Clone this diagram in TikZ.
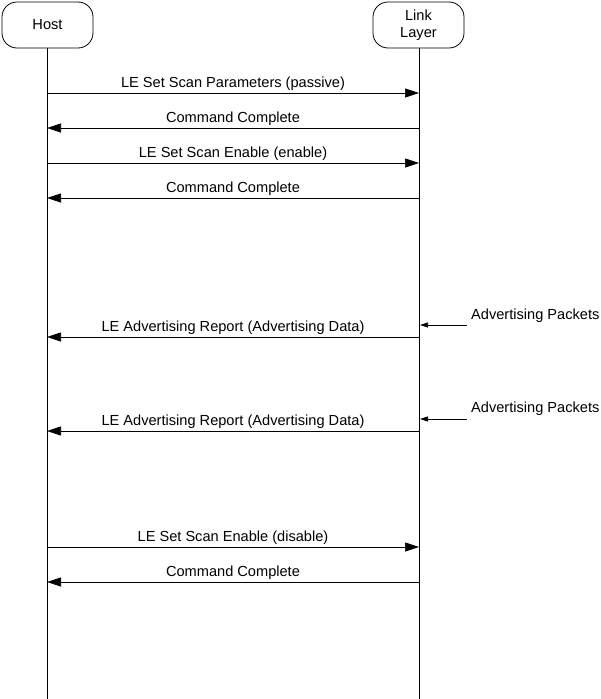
\documentclass[tikz,border=0pt]{standalone}
\usepackage{fontspec}
\setmainfont{Liberation Sans}
\usetikzlibrary{arrows.meta}
\begin{document}
\begin{tikzpicture}[x=1pt,y=-1pt,
  actor/.style={draw,line width=0.8pt,rounded corners=15pt,minimum width=91pt,minimum height=46pt,align=center,font=\fontsize{14.6}{17}\selectfont,inner sep=0pt},
  life/.style={line width=0.6pt},
  msg/.style={line width=0.6pt,-{Triangle[length=14pt,width=9pt]}},
  small/.style={line width=0.6pt,-{Triangle[length=8pt,width=5pt]}},
  lbl/.style={font=\fontsize{14.6}{17}\selectfont,above,inner sep=2pt},
  ext/.style={font=\fontsize{14.6}{17}\selectfont,anchor=west,inner sep=0pt}]
\useasboundingbox (0,0) rectangle (600,699);
\node[actor] (host) at (47.5,25) {Host};
\node[actor] (ll) at (418.5,25) {Link\\Layer};
\coordinate (hb) at (47,699);
\coordinate (lb) at (419,699);
\draw[life] (host.south -| hb) -- (hb);
\draw[life] (ll.south -| lb) -- (lb);
% message end points
\foreach \y [count=\i] in {93,128,163,198,337,431,547,582}{
  \coordinate (h\i) at (47,\y);
  \coordinate (l\i) at (419,\y);
}
\draw[msg] (h1) -- node[lbl] {LE Set Scan Parameters (passive)} (l1);
\draw[msg] (l2) -- node[lbl] {Command Complete} (h2);
\draw[msg] (h3) -- node[lbl] {LE Set Scan Enable (enable)} (l3);
\draw[msg] (l4) -- node[lbl] {Command Complete} (h4);
\draw[msg] (l5) -- node[lbl] {LE Advertising Report (Advertising Data)} (h5);
\draw[msg] (l6) -- node[lbl] {LE Advertising Report (Advertising Data)} (h6);
\draw[msg] (h7) -- node[lbl] {LE Set Scan Enable (disable)} (l7);
\draw[msg] (l8) -- node[lbl] {Command Complete} (h8);
% advertising packets
\node[ext] (ap1) at (471,316) {Advertising Packets};
\node[ext] (ap2) at (471,409) {Advertising Packets};
\coordinate (s1) at (467,325);
\coordinate (t1) at (420,325);
\coordinate (s2) at (467,419);
\coordinate (t2) at (420,419);
\draw[small] (s1) -- (t1);
\draw[small] (s2) -- (t2);
\end{tikzpicture}
\end{document}
